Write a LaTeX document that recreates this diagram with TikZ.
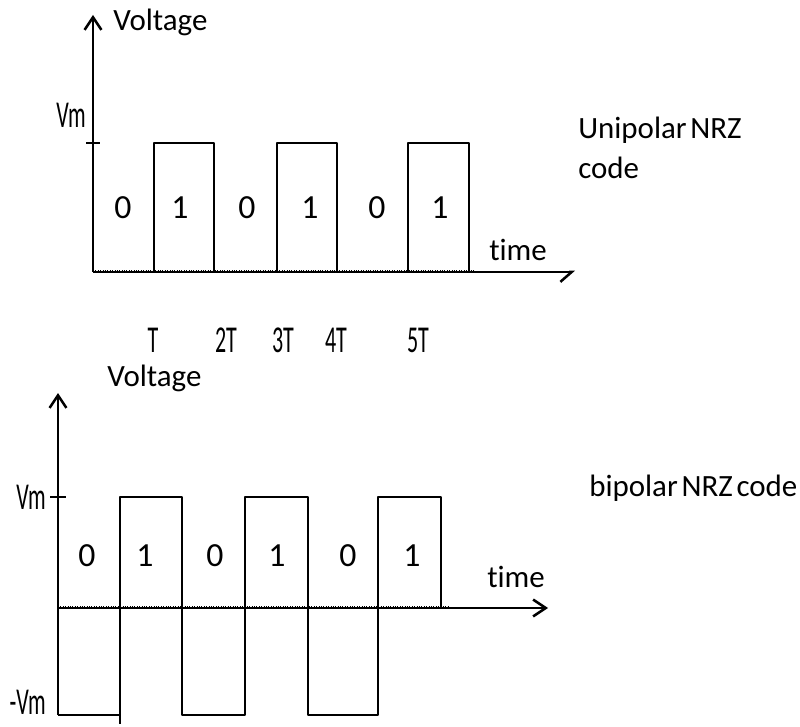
\documentclass[tikz,border=0pt]{standalone}
\usepackage{fontspec}
\setmainfont{Carlito}[Ligatures=NoCommon]
\usetikzlibrary{arrows.meta}

\tikzset{
  wave/.style={line width=1.6pt,line join=round},
  axis/.style={line width=2pt},
  axtip/.tip={Straight Barb[length=9pt,width=12pt,line width=1.8pt]},
  bit/.style={font=\fontsize{24}{28}\selectfont,inner sep=0pt},
  lbl/.style={font=\fontsize{22}{26}\selectfont,inner sep=0pt},
  title/.style={lbl,execute at begin node={\spaceskip=0.12em\relax}},
  tck/.style={font=\fontsize{27}{30}\selectfont,inner sep=0pt,xscale=0.58},
}

\begin{document}
\begin{tikzpicture}[x=0.025cm,y=-0.025cm]
  \useasboundingbox (0,0) rectangle (800,727);

  % unipolar NRZ
  \coordinate (o1) at (93,272);
  \coordinate (ytop1) at (93,15);
  \coordinate (xend1) at (575,272);
  \draw[axis,-axtip] (o1) -- (ytop1);
  \draw[axis,-{Straight Barb[harpoon,swap,length=8pt,width=14pt,line width=1.8pt]}] (o1) -- (xend1);
  \draw[densely dotted,line width=0.7pt] (93,270) -- (475,270);
  \draw[axis] (86,143) -- (100,143);
  \foreach \a/\b in {154/214,277/337,408/469}
    \draw[wave] (\a,272) -- (\a,143) -- (\b,143) -- (\b,272);
  \foreach \x/\v [count=\i] in {123/0,180/1,247/0,310/1,377/0,440/1}
    \node[bit] (ua\i) at (\x,208) {\v};
  \node[tck,anchor=east] (vm1) at (86,115) {Vm};
  \node[lbl,anchor=west] (volt1) at (113,22) {Voltage};
  \node[lbl,anchor=west] (time1) at (489,250) {time};
  \node[title,anchor=north west,align=left] (uni) at (578,117)
    {Unipolar NRZ\\[2pt]code};

  % time marks
  \foreach \x/\t [count=\i] in {153/T,226/2T,283/3T,336/4T,418/5T}
    \node[tck] (tm\i) at (\x,340) {\t};

  % bipolar NRZ
  \coordinate (o2) at (58,608);
  \coordinate (ybot2) at (58,715);
  \coordinate (ytop2) at (58,393);
  \coordinate (xend2) at (548,608);
  \draw[axis,-axtip] (ybot2) -- (ytop2);
  \draw[axis,-axtip] (o2) -- (xend2);
  \draw[densely dotted,line width=0.7pt] (58,606) -- (450,606);
  \draw[axis] (50,497) -- (66,497);
  \draw[wave] (ybot2) -- (120,715) -- (120,497) -- (182,497) -- (182,715)
    -- (245,715) -- (245,497) -- (308,497) -- (308,715) -- (378,715)
    -- (378,497) -- (441,497) -- (441,608);
  \draw[wave] (120,715) -- (120,724);
  \foreach \x/\v [count=\i] in {87/0,145/1,215/0,277/1,348/0,412/1}
    \node[bit] (ba\i) at (\x,556) {\v};
  \node[tck,anchor=east] (vm2) at (46,497) {Vm};
  \node[tck,anchor=east] (mvm2) at (46,702) {-Vm};
  \node[lbl,anchor=west] (volt2) at (107,378) {Voltage};
  \node[lbl,anchor=west] (time2) at (487,577) {time};
  \node[title,anchor=west] (bip) at (589,488) {bipolar NRZ code};
\end{tikzpicture}
\end{document}
